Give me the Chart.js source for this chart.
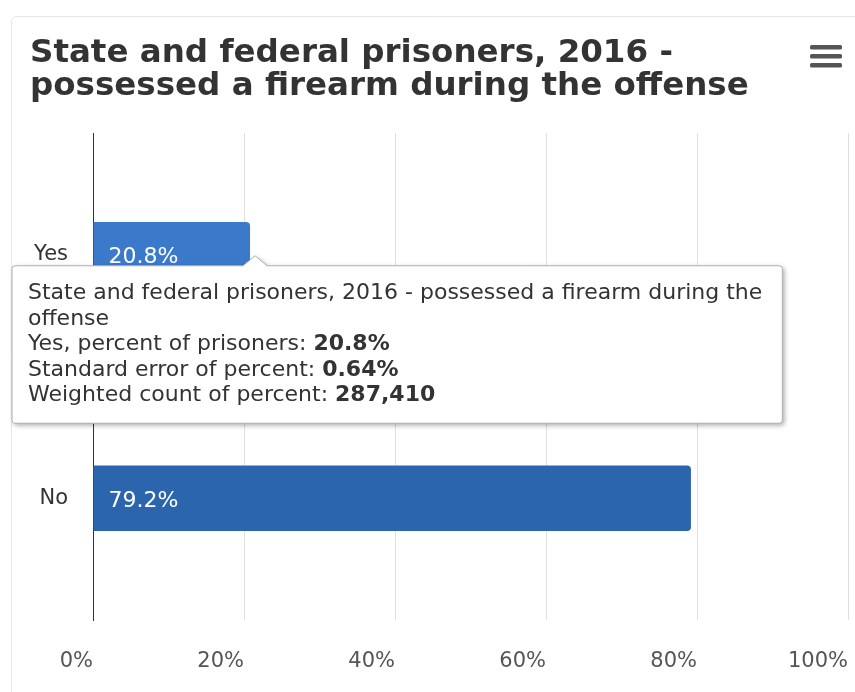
<!DOCTYPE html>
<html>
<head>
<meta charset="utf-8">
<script src="https://cdn.jsdelivr.net/npm/chart.js@4.4.1/dist/chart.umd.min.js"></script>
<style>
  html, body { margin: 0; padding: 0; background: #fff; }
  #wrap { width: 855px; height: 692px; position: relative; }
</style>
</head>
<body>
<div id="wrap"><canvas id="BarChart" width="855" height="692"></canvas></div>
<script>
// data
const categories = ['Yes', 'No'];
const percents = [20.8, 79.2];
const stdErrors = [0.64, 0.64];
const weightedCounts = [287410, null];
const tickValues = [0, 20, 40, 60, 80, 100];
const titleLines = ['State and federal prisoners, 2016 -', 'possessed a firearm during the offense'];
const seriesName = 'percent of prisoners';
const hoveredIndex = 0;

const FONT = '"DejaVu Sans", Verdana, sans-serif';

// faint container border behind everything
const framePlugin = {
    id: 'frame',
    beforeDraw(chart) {
        const ctx = chart.ctx;
        ctx.save();
        ctx.strokeStyle = '#e6e6e6';
        ctx.lineWidth = 1;
        ctx.beginPath();
        ctx.moveTo(11.5, 700);
        ctx.lineTo(11.5, 22);
        ctx.quadraticCurveTo(11.5, 16.5, 17, 16.5);
        ctx.lineTo(860, 16.5);
        ctx.stroke();
        ctx.restore();
    }
};

// hamburger export menu icon
const menuPlugin = {
    id: 'menuIcon',
    afterDraw(chart) {
        const ctx = chart.ctx;
        ctx.save();
        ctx.fillStyle = '#555';
        [45, 54, 63].forEach(y => {
            ctx.beginPath();
            ctx.roundRect(810, y, 32, 4.5, 1.5);
            ctx.fill();
        });
        ctx.restore();
    }
};

// value labels inside the bars
const barLabelPlugin = {
    id: 'barLabels',
    afterDatasetsDraw(chart) {
        const ctx = chart.ctx;
        const meta = chart.getDatasetMeta(0);
        ctx.save();
        ctx.font = '22px ' + FONT;
        ctx.fillStyle = '#fff';
        ctx.textAlign = 'left';
        ctx.textBaseline = 'middle';
        meta.data.forEach((bar, i) => {
            ctx.fillText(percents[i].toFixed(1) + '%', bar.base + 15, bar.y + 3);
        });
        ctx.restore();
    }
};

// tooltip pinned on the hovered bar
const pinnedTooltip = {
    id: 'pinnedTooltip',
    afterDraw(chart) {
        const i = hoveredIndex;
        const bar = chart.getDatasetMeta(0).data[i];
        const ctx = chart.ctx;
        const regular = '22px ' + FONT;
        const bold = 'bold 22px ' + FONT;
        const maxText = 745;

        ctx.save();
        ctx.font = regular;

        // wrap the heading
        const words = titleLines.join(' ').split(' ');
        const lines = [];
        let cur = '';
        words.forEach(w => {
            const test = cur ? cur + ' ' + w : w;
            if (ctx.measureText(test).width > maxText && cur) {
                lines.push([{ text: cur }]);
                cur = w;
            } else {
                cur = test;
            }
        });
        if (cur) lines.push([{ text: cur }]);

        lines.push([{ text: categories[i] + ', ' + seriesName + ': ' }, { text: percents[i].toFixed(1) + '%', bold: true }]);
        lines.push([{ text: 'Standard error of percent: ' }, { text: stdErrors[i].toFixed(2) + '%', bold: true }]);
        if (weightedCounts[i] != null) {
            lines.push([{ text: 'Weighted count of percent: ' }, { text: weightedCounts[i].toLocaleString('en-US'), bold: true }]);
        }

        const lineW = segs => segs.reduce((s, g) => {
            ctx.font = g.bold ? bold : regular;
            return s + ctx.measureText(g.text).width;
        }, 0);
        const textW = Math.max(...lines.map(lineW));

        const padX = 16, padY = 15, lh = 25.5;
        const w = textW + padX * 2 + 4;
        const h = lines.length * lh + padY * 2;
        const tipX = bar.x + 5, tipY = bar.y + 1;
        const top = tipY + 10;
        const left = Math.max(12, Math.min(tipX - w / 2, chart.width - w - 12));
        const right = left + w, bottom = top + h, r = 3;

        ctx.beginPath();
        ctx.moveTo(left + r, top);
        ctx.lineTo(tipX - 12, top);
        ctx.lineTo(tipX, tipY);
        ctx.lineTo(tipX + 12, top);
        ctx.lineTo(right - r, top);
        ctx.quadraticCurveTo(right, top, right, top + r);
        ctx.lineTo(right, bottom - r);
        ctx.quadraticCurveTo(right, bottom, right - r, bottom);
        ctx.lineTo(left + r, bottom);
        ctx.quadraticCurveTo(left, bottom, left, bottom - r);
        ctx.lineTo(left, top + r);
        ctx.quadraticCurveTo(left, top, left + r, top);
        ctx.closePath();

        ctx.shadowColor = 'rgba(0,0,0,0.35)';
        ctx.shadowBlur = 5;
        ctx.shadowOffsetX = 2;
        ctx.shadowOffsetY = 2;
        ctx.fillStyle = '#fff';
        ctx.fill();
        ctx.shadowColor = 'transparent';
        ctx.strokeStyle = '#b0b0b0';
        ctx.lineWidth = 1;
        ctx.stroke();

        ctx.fillStyle = '#333';
        ctx.textBaseline = 'middle';
        ctx.textAlign = 'left';
        lines.forEach((segs, k) => {
            let x = left + padX;
            const y = top + padY + lh * k + lh / 2;
            segs.forEach(g => {
                ctx.font = g.bold ? bold : regular;
                ctx.fillText(g.text, x, y);
                x += ctx.measureText(g.text).width;
            });
        });
        ctx.restore();
    }
};

const ctx = document.getElementById('BarChart').getContext('2d');

new Chart(ctx, {
    type: 'bar',
    data: {
        labels: categories,
        datasets: [{
            label: seriesName,
            data: percents,
            backgroundColor: categories.map((c, i) => i === hoveredIndex ? '#3b7acb' : '#2b65ae'),
            borderRadius: 4,
            borderSkipped: 'start',
            barPercentage: 0.9,
            categoryPercentage: 0.3
        }]
    },
    options: {
        indexAxis: 'y',
        responsive: false,
        animation: false,
        events: [],
        layout: {
            padding: { left: 30, right: 7, top: 0, bottom: 0 }
        },
        scales: {
            x: {
                min: 0,
                max: 100,
                afterBuildTicks: scale => {
                    scale.ticks = tickValues.map(v => ({ value: v }));
                },
                afterFit: scale => {
                    scale.height = 72;
                    scale.paddingRight = 0;
                },
                grid: { color: '#e0e0e0', drawTicks: false },
                border: { display: false },
                ticks: {
                    align: 'end',
                    padding: 29,
                    color: '#555',
                    font: { family: FONT, size: 21 },
                    callback: v => v + '%'
                }
            },
            y: {
                grid: { display: false, drawTicks: false },
                border: { display: true, color: '#333', width: 1 },
                afterFit: scale => {
                    scale.width = 63;
                    scale.paddingBottom = 0;
                    scale.paddingTop = 0;
                },
                ticks: {
                    padding: 25,
                    color: '#333',
                    font: { family: FONT, size: 21 }
                }
            }
        },
        plugins: {
            legend: { display: false },
            tooltip: { enabled: false },
            title: {
                display: true,
                text: titleLines,
                align: 'start',
                color: '#333',
                font: { family: FONT, size: 32.5, weight: 'bold', lineHeight: 33 / 32.5 },
                padding: { top: 37, bottom: 30 }
            }
        }
    },
    plugins: [framePlugin, barLabelPlugin, pinnedTooltip, menuPlugin]
});
</script>
</body>
</html>
